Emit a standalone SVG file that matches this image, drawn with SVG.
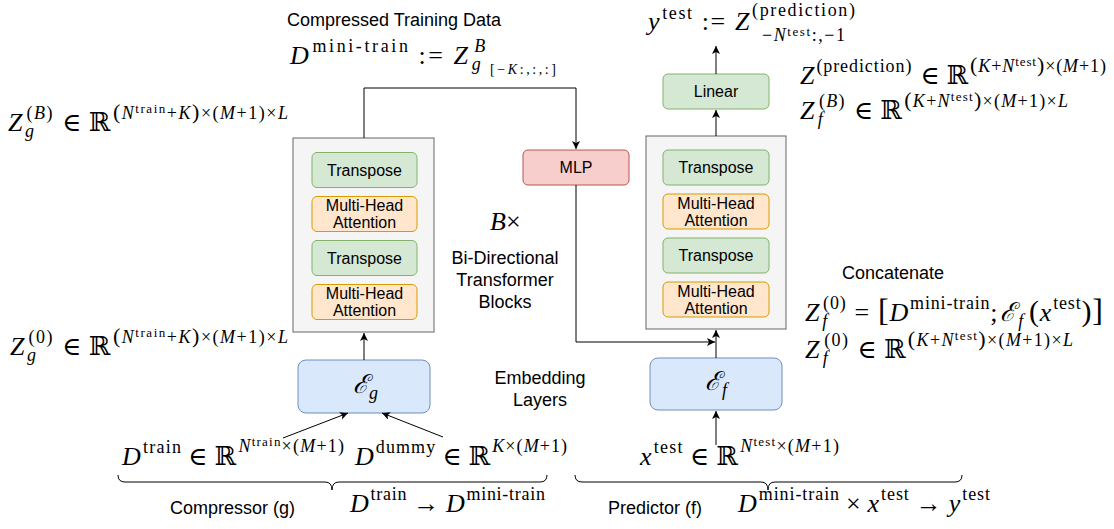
<svg xmlns="http://www.w3.org/2000/svg" width="1114" height="529" viewBox="0 0 1114 529">
<defs>
<style>
.t{font-family:"Liberation Sans",Arial,sans-serif;fill:#000}
.bl{font-family:"Liberation Sans",Arial,sans-serif;font-size:16px;fill:#000;text-anchor:middle}
.m{font-family:"Liberation Serif","DejaVu Serif",serif;font-size:26px;fill:#000}
.i{font-style:italic}
.s{font-size:18px}
.ss{font-size:13px}
.gray{fill:#f5f5f5;stroke:#666666;stroke-width:1}
.grn{fill:#d5e8d4;stroke:#82b366;stroke-width:1}
.org{fill:#ffe6cc;stroke:#d79b00;stroke-width:1}
.red{fill:#f8cecc;stroke:#b85450;stroke-width:1}
.blu{fill:#dae8fc;stroke:#6c8ebf;stroke-width:1}
.c{fill:none;stroke:#000;stroke-width:1;marker-end:url(#ah)}
.br{fill:none;stroke:#000;stroke-width:1}
</style>
<marker id="ah" markerUnits="userSpaceOnUse" markerWidth="10" markerHeight="10" refX="8" refY="4" orient="auto">
<path d="M0,0 L8,4 L0,8 L2,4 z" fill="#000"/>
</marker>
</defs>
<rect width="1114" height="529" fill="#fff"/>

<g id="compressor-block">
<rect class="gray" x="293" y="138" width="141" height="194"/>
<g id="g-transpose1"><rect class="grn" x="312" y="152.5" width="105" height="35" rx="5"/><text class="bl" x="364.5" y="175.5">Transpose</text></g>
<g id="g-mha1"><rect class="org" x="312" y="196.5" width="105" height="35" rx="5"/><text class="bl" x="364.5" y="211">Multi-Head</text><text class="bl" x="364.5" y="228">Attention</text></g>
<g id="g-transpose2"><rect class="grn" x="312" y="240.5" width="105" height="35" rx="5"/><text class="bl" x="364.5" y="263.5">Transpose</text></g>
<g id="g-mha2"><rect class="org" x="312" y="284.5" width="105" height="35" rx="5"/><text class="bl" x="364.5" y="299">Multi-Head</text><text class="bl" x="364.5" y="316">Attention</text></g>
</g>

<g id="predictor-block">
<rect class="gray" x="646" y="136" width="140" height="193"/>
<g id="f-transpose1"><rect class="grn" x="663" y="150" width="106" height="35" rx="5"/><text class="bl" x="716" y="173">Transpose</text></g>
<g id="f-mha1"><rect class="org" x="663" y="194" width="106" height="35" rx="5"/><text class="bl" x="716" y="208.5">Multi-Head</text><text class="bl" x="716" y="225.5">Attention</text></g>
<g id="f-transpose2"><rect class="grn" x="663" y="238" width="106" height="35" rx="5"/><text class="bl" x="716" y="261">Transpose</text></g>
<g id="f-mha2"><rect class="org" x="663" y="282" width="106" height="35" rx="5"/><text class="bl" x="716" y="296.5">Multi-Head</text><text class="bl" x="716" y="313.5">Attention</text></g>
</g>

<g id="linear"><rect class="grn" x="663" y="74" width="106" height="35" rx="5"/><text class="bl" x="716" y="97">Linear</text></g>
<g id="mlp"><rect class="red" x="523" y="150" width="106" height="35" rx="5"/><text class="bl" x="576" y="173">MLP</text></g>
<g id="embed-g"><rect class="blu" x="298" y="360" width="132" height="53" rx="8"/><text class="m" x="353" y="393"><tspan class="i">ℰ</tspan><tspan class="s i" dy="6">g</tspan></text></g>
<g id="embed-f"><rect class="blu" x="650" y="358" width="132" height="52" rx="8"/><text class="m" x="705" y="390"><tspan class="i">ℰ</tspan><tspan class="s i" dy="6" dx="1">f</tspan></text></g>

<g id="connectors">
<path class="c" d="M364,360 V333"/>
<path class="c" d="M364,138 V88 H576 V149"/>
<path class="c" d="M576,185 V342 H715"/>
<path class="c" d="M716,358 V330"/>
<path class="c" d="M716,136 V110"/>
<path class="c" d="M716,74 V46"/>
<path class="c" d="M283,438 L348,413"/>
<path class="c" d="M443,437 L382,413"/>
<path class="c" d="M716,445 V411"/>
</g>

<g id="braces">
<path class="br" d="M118,475 Q118,482 125,482 H325 Q332,482 332,490 Q332,482 339,482 H540 Q547,482 547,475"/>
<path class="br" d="M575,475 Q575,482 582,482 H761 Q768,482 768,490 Q768,482 775,482 H955 Q962,482 962,475"/>
</g>

<g id="labels">
<text class="t" x="287" y="26" font-size="18">Compressed Training Data</text>
<text class="t" x="505" y="264" font-size="18" text-anchor="middle">Bi-Directional</text>
<text class="t" x="505" y="286" font-size="18" text-anchor="middle">Transformer</text>
<text class="t" x="505" y="308" font-size="18" text-anchor="middle">Blocks</text>
<text class="t" x="842" y="279" font-size="18">Concatenate</text>
<text class="t" x="540" y="384" font-size="18" text-anchor="middle">Embedding</text>
<text class="t" x="540" y="406" font-size="18" text-anchor="middle">Layers</text>
<text class="t" x="170" y="514" font-size="18">Compressor (g)</text>
<text class="t" x="608" y="514" font-size="18">Predictor (f)</text>
</g>

<g id="math">
<text class="m" x="290" y="64" textLength="266" lengthAdjust="spacing"><tspan class="i">D</tspan><tspan class="s" dy="-12" dx="1">mini-train</tspan><tspan dy="12" dx="8">:=</tspan><tspan class="i" dx="8">Z</tspan><tspan class="s i" dy="6" dx="1">g</tspan><tspan class="s i" dx="-9" dy="-18">B</tspan><tspan font-size="14" dy="22" dx="2">[−<tspan class="i">K</tspan>:,:,:]</tspan></text>
<text class="m" x="648" y="30" textLength="207" lengthAdjust="spacing"><tspan class="i">y</tspan><tspan class="s" dy="-11" dx="1">test</tspan><tspan dy="11" dx="8">:=</tspan><tspan class="i" dx="8">Z</tspan><tspan class="s" dy="-14" dx="1">(prediction)</tspan></text>
<text class="m s" x="762" y="41" textLength="83" lengthAdjust="spacing">−<tspan class="i">N</tspan><tspan class="ss" dy="-5">test</tspan><tspan dy="5">:,−1</tspan></text>
<text class="m" x="800" y="84" textLength="306" lengthAdjust="spacing"><tspan class="i">Z</tspan><tspan class="s" dy="-12" dx="1">(prediction)</tspan><tspan dy="12" dx="8">∈</tspan><tspan dx="6">ℝ</tspan><tspan class="s" dy="-12" dx="1"><tspan font-size="22">(</tspan><tspan class="i">K</tspan>+<tspan class="i">N</tspan><tspan class="ss" dy="-6">test</tspan><tspan font-size="22" dy="6">)</tspan>×(<tspan class="i">M</tspan>+1)</tspan></text>
<text class="m" x="800" y="119" textLength="268" lengthAdjust="spacing"><tspan class="i">Z</tspan><tspan class="s i" dy="6" dx="2">f</tspan><tspan class="s" dx="-5" dy="-18">(<tspan class="i">B</tspan>)</tspan><tspan dy="12" dx="8">∈</tspan><tspan dx="6">ℝ</tspan><tspan class="s" dy="-12" dx="1"><tspan font-size="22">(</tspan><tspan class="i">K</tspan>+<tspan class="i">N</tspan><tspan class="ss" dy="-6">test</tspan><tspan font-size="22" dy="6">)</tspan>×(<tspan class="i">M</tspan>+1)×<tspan class="i">L</tspan></tspan></text>
<text class="m" x="8" y="131" textLength="280" lengthAdjust="spacing"><tspan class="i">Z</tspan><tspan class="s i" dy="6" dx="1">g</tspan><tspan class="s" dx="-9" dy="-18">(<tspan class="i">B</tspan>)</tspan><tspan dy="12" dx="8">∈</tspan><tspan dx="6">ℝ</tspan><tspan class="s" dy="-12" dx="1"><tspan font-size="22">(</tspan><tspan class="i">N</tspan><tspan class="ss" dy="-6">train</tspan><tspan dy="6">+</tspan><tspan class="i">K</tspan><tspan font-size="22">)</tspan>×(<tspan class="i">M</tspan>+1)×<tspan class="i">L</tspan></tspan></text>
<text class="m" x="490" y="230"><tspan class="i">B</tspan>×</text>
<text class="m" x="805" y="321" textLength="298" lengthAdjust="spacing"><tspan class="i">Z</tspan><tspan class="s i" dy="6" dx="2">f</tspan><tspan class="s" dx="-5" dy="-18">(0)</tspan><tspan dy="12" dx="8">=</tspan><tspan font-size="32" dx="8">[</tspan><tspan class="i">D</tspan><tspan class="s" dy="-12" dx="1">mini-train</tspan><tspan dy="12">;</tspan><tspan class="i" dx="2">ℰ</tspan><tspan class="s i" dy="6" dx="1">f</tspan><tspan font-size="30" dy="-6" dx="5">(</tspan><tspan class="i">x</tspan><tspan class="s" dy="-12" dx="1">test</tspan><tspan font-size="30" dy="12">)</tspan><tspan font-size="32">]</tspan></text>
<text class="m" x="805" y="358" textLength="268" lengthAdjust="spacing"><tspan class="i">Z</tspan><tspan class="s i" dy="6" dx="2">f</tspan><tspan class="s" dx="-5" dy="-18">(0)</tspan><tspan dy="12" dx="8">∈</tspan><tspan dx="6">ℝ</tspan><tspan class="s" dy="-12" dx="1"><tspan font-size="22">(</tspan><tspan class="i">K</tspan>+<tspan class="i">N</tspan><tspan class="ss" dy="-6">test</tspan><tspan font-size="22" dy="6">)</tspan>×(<tspan class="i">M</tspan>+1)×<tspan class="i">L</tspan></tspan></text>
<text class="m" x="10" y="355" textLength="278" lengthAdjust="spacing"><tspan class="i">Z</tspan><tspan class="s i" dy="6" dx="1">g</tspan><tspan class="s" dx="-9" dy="-18">(0)</tspan><tspan dy="12" dx="8">∈</tspan><tspan dx="6">ℝ</tspan><tspan class="s" dy="-12" dx="1"><tspan font-size="22">(</tspan><tspan class="i">N</tspan><tspan class="ss" dy="-6">train</tspan><tspan dy="6">+</tspan><tspan class="i">K</tspan><tspan font-size="22">)</tspan>×(<tspan class="i">M</tspan>+1)×<tspan class="i">L</tspan></tspan></text>
<text class="m" x="122" y="465" textLength="222" lengthAdjust="spacing"><tspan class="i">D</tspan><tspan class="s" dy="-12" dx="1">train</tspan><tspan dy="12" dx="6">∈</tspan><tspan dx="6">ℝ</tspan><tspan class="s" dy="-13" dx="1"><tspan class="i">N</tspan><tspan class="ss" dy="-6">train</tspan><tspan dy="6">×(</tspan><tspan class="i">M</tspan>+1)</tspan></text>
<text class="m" x="355" y="465" textLength="212" lengthAdjust="spacing"><tspan class="i">D</tspan><tspan class="s" dy="-12" dx="1">dummy</tspan><tspan dy="12" dx="6">∈</tspan><tspan dx="6">ℝ</tspan><tspan class="s" dy="-13" dx="1"><tspan class="i">K</tspan>×(<tspan class="i">M</tspan>+1)</tspan></text>
<text class="m" x="640" y="465" textLength="199" lengthAdjust="spacing"><tspan class="i">x</tspan><tspan class="s" dy="-12" dx="1">test</tspan><tspan dy="12" dx="6">∈</tspan><tspan dx="6">ℝ</tspan><tspan class="s" dy="-13" dx="1"><tspan class="i">N</tspan><tspan class="ss" dy="-6">test</tspan><tspan dy="6">×(</tspan><tspan class="i">M</tspan>+1)</tspan></text>
<text class="m" x="350" y="512" textLength="195" lengthAdjust="spacing"><tspan class="i">D</tspan><tspan class="s" dy="-12" dx="1">train</tspan><tspan dy="12" dx="6">→</tspan><tspan class="i" dx="6">D</tspan><tspan class="s" dy="-12" dx="1">mini-train</tspan></text>
<text class="m" x="738" y="512" textLength="252" lengthAdjust="spacing"><tspan class="i">D</tspan><tspan class="s" dy="-12" dx="1">mini-train</tspan><tspan dy="12" dx="6">×</tspan><tspan class="i" dx="6">x</tspan><tspan class="s" dy="-12" dx="1">test</tspan><tspan dy="12" dx="6">→</tspan><tspan class="i" dx="6">y</tspan><tspan class="s" dy="-12" dx="1">test</tspan></text>
</g>
</svg>
